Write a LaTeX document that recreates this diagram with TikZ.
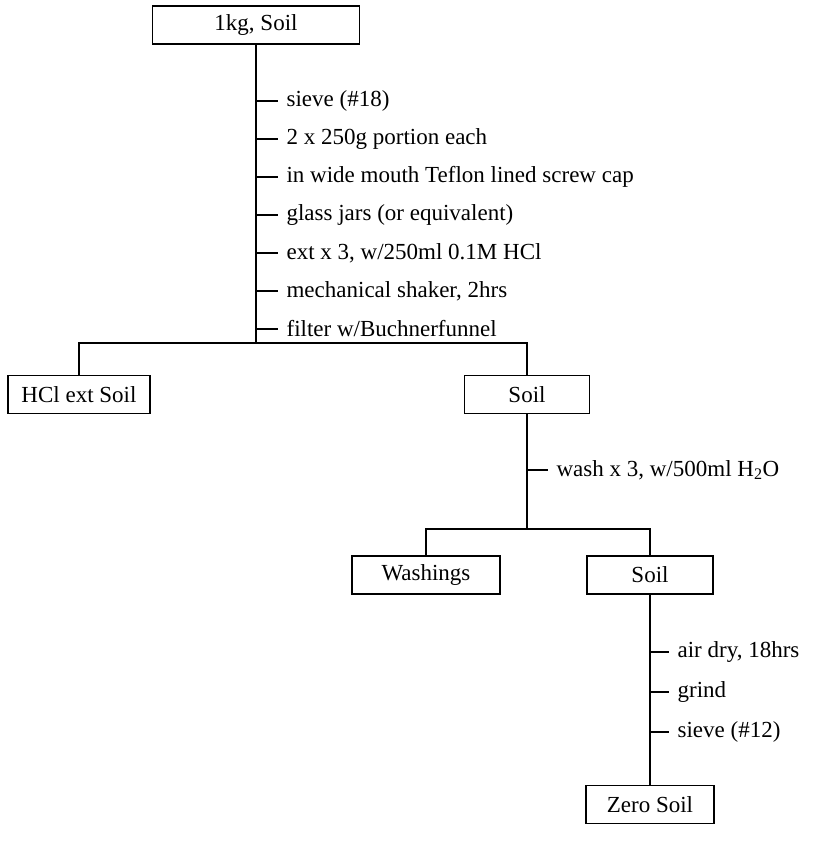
\documentclass[tikz,border=0pt]{standalone}
\usepackage{fontspec}
\setmainfont{Liberation Serif}
\begin{document}
\begin{tikzpicture}[x=1pt,y=-1pt,line width=1.2pt,
  box/.style={draw,rectangle,inner sep=0pt,minimum height=38pt,font=\fontsize{23}{27}\selectfont},
  lab/.style={anchor=west,inner sep=0pt,font=\fontsize{23}{27}\selectfont}]
\useasboundingbox (0,0) rectangle (829,856);
% boxes
\node[box,minimum width=207pt] (top) at (256,25) {1kg, Soil};
\node[box,minimum width=142pt] (hcl) at (79,394.5) {HCl ext Soil};
\node[box,minimum width=125pt] (soilA) at (527,394.5) {Soil};
\node[box,minimum width=148pt] (wash) at (426,575) {Washings};
\node[box,minimum width=126pt] (soilB) at (650,575) {Soil};
\node[box,minimum width=128pt] (zero) at (650,804.5) {Zero Soil};
% junctions
\coordinate (j1) at (256,343);
\coordinate (j2) at (527,529);
% connectors
\draw (top.south) -- (j1);
\draw (hcl.north) |- (j1) -| (soilA.north);
\draw (soilA.south) -- (j2);
\draw (wash.north) |- (j2) -| (soilB.north);
\draw (soilB.south) -- (zero.north);
% first group of steps
\foreach \t/\y/\n in {{sieve (\#18)}/101/a1,{2 x 250g portion each}/139/a2,{in wide mouth Teflon lined screw cap}/177/a3,{glass jars (or equivalent)}/215/a4,{ext x 3, w/250ml 0.1M HCl}/253/a5,{mechanical shaker, 2hrs}/291/a6,{filter w/Buchnerfunnel}/329/a7}{
  \node[lab] (\n) at (286,\y) {\t};
  \coordinate (\n t) at (256,\y);
  \draw (\n t) -- ([xshift=-8pt]\n.west);
}
% wash step
\node[lab] (w1) at (556,470) {wash x 3, w/500ml H\textsubscript{2}O};
\coordinate (w1t) at (527,470);
\draw (w1t) -- ([xshift=-8pt]w1.west);
% last group of steps
\foreach \t/\y/\n in {{air dry, 18hrs}/652/b1,{grind}/692/b2,{sieve (\#12)}/732/b3}{
  \node[lab] (\n) at (677,\y) {\t};
  \coordinate (\n t) at (650,\y);
  \draw (\n t) -- ([xshift=-8pt]\n.west);
}
\end{tikzpicture}
\end{document}
